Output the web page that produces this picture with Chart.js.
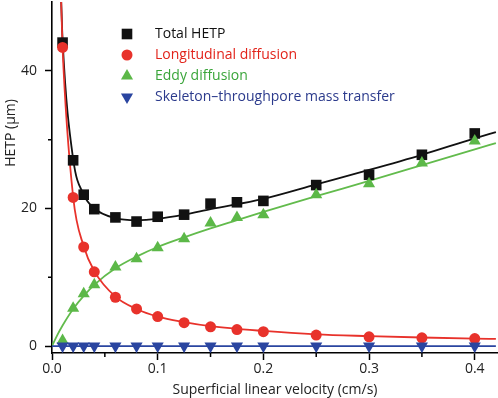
<!DOCTYPE html>
<html>
<head>
  <title>HETP vs velocity</title>
  <script src="https://cdn.jsdelivr.net/npm/chart.js"></script>
  <style>
    body { margin: 0; background: #fff; }
    #wrap { width: 498px; height: 398px; }
  </style>
</head>
<body>
  <div id="wrap"><canvas id="chart" width="498" height="398"></canvas></div>

  <script>
    // measured points
    const velocity = [0.01, 0.02, 0.03, 0.04, 0.06, 0.08, 0.1, 0.125, 0.15, 0.175, 0.2, 0.25, 0.3, 0.35, 0.4];
    const totalHETP = [44.1, 27.0, 22.0, 19.9, 18.7, 18.1, 18.8, 19.1, 20.7, 20.9, 21.1, 23.4, 24.9, 27.8, 30.9];
    const longitudinal = [43.4, 21.6, 14.4, 10.8, 7.1, 5.4, 4.3, 3.4, 2.8, 2.4, 2.1, 1.6, 1.35, 1.2, 1.1];
    const eddy = [0.8, 5.5, 7.6, 8.9, 11.5, 12.7, 14.3, 15.6, 17.9, 18.7, 19.1, 22.0, 23.6, 26.6, 29.8];
    const skeleton = [0, 0, 0, 0, 0, 0, 0, 0, 0, 0, 0, 0, 0, 0, 0];

    // fitted curves
    const totalFitX = [0.0085, 0.01, 0.02, 0.03, 0.04, 0.06, 0.08, 0.1, 0.125, 0.15, 0.2, 0.25, 0.3, 0.35, 0.4, 0.42];
    const totalFitY = [51, 44.5, 27.2, 22.0, 20.0, 18.6, 18.3, 18.5, 19.1, 19.9, 21.4, 23.5, 25.6, 27.8, 30.2, 31.1];
    const longFitX = [0.0085, 0.01, 0.02, 0.03, 0.04, 0.06, 0.08, 0.1, 0.125, 0.15, 0.2, 0.25, 0.3, 0.35, 0.4, 0.42];
    const longFitY = [51, 43.4, 21.7, 14.5, 10.9, 7.2, 5.4, 4.3, 3.5, 2.9, 2.2, 1.7, 1.45, 1.25, 1.1, 1.05];
    const eddyFitX = [0, 0.005, 0.01, 0.02, 0.03, 0.04, 0.06, 0.08, 0.1, 0.125, 0.15, 0.175, 0.2, 0.25, 0.3, 0.35, 0.4, 0.42];
    const eddyFitY = [0, 1.6, 3.0, 5.4, 7.3, 8.9, 11.3, 13.0, 14.4, 15.8, 17.1, 18.3, 19.5, 21.8, 24.0, 26.3, 28.6, 29.5];
    const skelFitX = [0, 0.42];
    const skelFitY = [0, 0];

    const xTicks = [0, 0.05, 0.1, 0.15, 0.2, 0.25, 0.3, 0.35, 0.4];
    const xLabels = ['0.0', '', '0.1', '', '0.2', '', '0.3', '', '0.4'];
    const yTicks = [0, 10, 20, 30, 40];
    const yLabels = ['0', '', '20', '', '40'];

    const names = ['Total HETP', 'Longitudinal diffusion', 'Eddy diffusion', 'Skeleton\u2013throughpore mass transfer'];
    const colors = ['#111111', '#e8322b', '#5cb848', '#2a45a0'];
    const lineColors = ['#111111', '#e8322b', '#62bb4c', '#2a45a0'];
    const textColors = ['#111111', '#e2231a', '#3aa53a', '#2b3a8c'];

    const FONT = '"Open Sans", "Noto Sans", sans-serif';

    const pts = (xs, ys) => xs.map((x, i) => ({ x, y: ys[i] }));

    function markerSet(i, data, style, radius, rotation) {
      return {
        label: names[i],
        data: pts(velocity, data),
        showLine: false,
        pointStyle: style,
        pointRadius: radius,
        pointRotation: rotation || 0,
        pointBackgroundColor: colors[i],
        pointBorderWidth: 0,
        order: 4 - i
      };
    }

    function fitSet(i, xs, ys, order) {
      return {
        label: names[i] + ' fit',
        data: pts(xs, ys),
        showLine: true,
        borderColor: lineColors[i],
        borderWidth: 1.8,
        pointRadius: 0,
        cubicInterpolationMode: 'monotone',
        order: order
      };
    }

    // major ticks drawn by the scale, unlabelled ones are hidden and redrawn shorter here
    const minorTickColor = ctx => (ctx.tick && ctx.tick.label === '' ? 'rgba(0,0,0,0)' : '#000');

    const extrasPlugin = {
      id: 'extras',
      afterDraw(chart) {
        const ctx = chart.ctx;
        const a = chart.chartArea;
        const sx = chart.scales.x, sy = chart.scales.y;
        ctx.save();
        ctx.strokeStyle = '#000';
        ctx.lineWidth = 1.5;
        ctx.beginPath();
        xTicks.forEach((v, i) => {
          if (xLabels[i] !== '') return;
          const px = sx.getPixelForValue(v);
          ctx.moveTo(px, a.bottom);
          ctx.lineTo(px, a.bottom + 4);
        });
        yTicks.forEach((v, i) => {
          if (yLabels[i] !== '') return;
          const py = sy.getPixelForValue(v);
          ctx.moveTo(a.left, py);
          ctx.lineTo(a.left - 4, py);
        });
        ctx.stroke();

        // legend inside the plot
        const styles = [['rect', 7.5, 0], ['circle', 5.5, 0], ['triangle', 7, 0], ['triangle', 7, 180]];
        ctx.font = '14px ' + FONT;
        ctx.textBaseline = 'middle';
        names.forEach((n, i) => {
          const y = a.top + 32 + i * 21;
          const x = a.left + 75;
          ctx.fillStyle = colors[i];
          Chart.helpers.drawPoint(ctx, { pointStyle: styles[i][0], radius: styles[i][1], rotation: styles[i][2], borderWidth: 0 }, x, y);
          ctx.fillStyle = textColors[i];
          ctx.fillText(n, a.left + 103, y);
        });

        // y axis title
        ctx.translate(11, a.top + 131);
        ctx.rotate(-Math.PI / 2);
        ctx.textAlign = 'center';
        ctx.fillStyle = '#222';
        ctx.fillText('HETP (\u00b5m)', 0, 0);
        ctx.restore();
      }
    };

    new Chart(document.getElementById('chart'), {
      type: 'scatter',
      data: {
        datasets: [
          markerSet(0, totalHETP, 'rect', 7.5),
          markerSet(1, longitudinal, 'circle', 5.5),
          markerSet(2, eddy, 'triangle', 7),
          markerSet(3, skeleton, 'triangle', 7, 180),
          fitSet(0, totalFitX, totalFitY, 12),
          fitSet(1, longFitX, longFitY, 10),
          fitSet(2, eddyFitX, eddyFitY, 11),
          fitSet(3, skelFitX, skelFitY, 9)
        ]
      },
      options: {
        responsive: false,
        animation: false,
        layout: { autoPadding: false, padding: { top: 2, right: 0, left: 0, bottom: 0 } },
        plugins: { legend: { display: false }, tooltip: { enabled: false } },
        scales: {
          x: {
            type: 'linear',
            min: 0,
            max: 0.422,
            afterBuildTicks: s => { s.ticks = xTicks.map(v => ({ value: v })); },
            afterFit: s => { s.height = 45; s.paddingLeft = 0; s.paddingRight = 0; },
            ticks: {
              color: '#222',
              font: { family: FONT, size: 14 },
              padding: 1,
              maxRotation: 0,
              autoSkip: false,
              callback: (v, i) => xLabels[i]
            },
            grid: { drawOnChartArea: false, drawTicks: true, tickLength: 7, tickColor: minorTickColor, tickWidth: 1.5 },
            border: { display: true, color: '#000', width: 1.6 },
            title: {
              display: true,
              text: 'Superficial linear velocity (cm/s)',
              color: '#222',
              font: { family: FONT, size: 14 },
              padding: { top: 1, bottom: 0 }
            }
          },
          y: {
            type: 'linear',
            min: -1,
            max: 50,
            afterBuildTicks: s => { s.ticks = yTicks.map(v => ({ value: v })); },
            afterFit: s => { s.width = 52; s.paddingTop = 0; s.paddingBottom = 0; },
            ticks: {
              color: '#222',
              font: { family: FONT, size: 14 },
              padding: 8,
              autoSkip: false,
              callback: (v, i) => yLabels[i]
            },
            grid: { drawOnChartArea: false, drawTicks: true, tickLength: 7, tickColor: minorTickColor, tickWidth: 1.5 },
            border: { display: true, color: '#000', width: 1.6 }
          }
        }
      },
      plugins: [extrasPlugin]
    });
  </script>
</body>
</html>
